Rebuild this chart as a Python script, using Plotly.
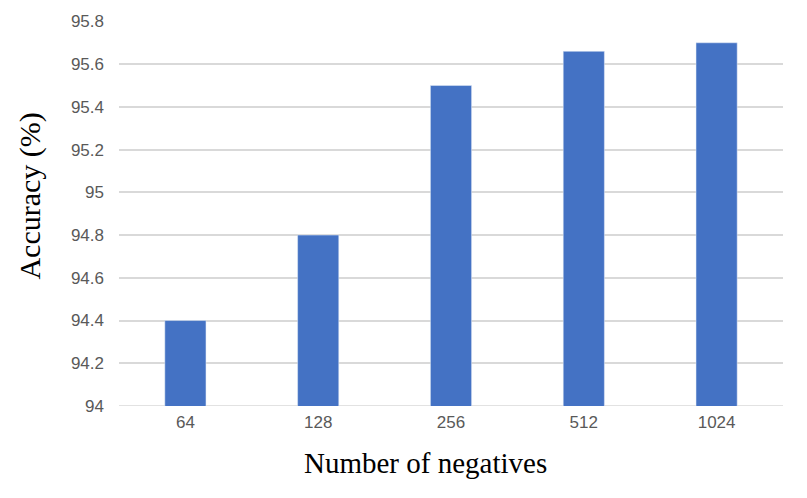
import plotly.graph_objects as go

# 데이터
negatives = ['64', '128', '256', '512', '1024']
accuracy = [94.4, 94.8, 95.5, 95.66, 95.7]
y_ticks = [94, 94.2, 94.4, 94.6, 94.8, 95, 95.2, 95.4, 95.6, 95.8]
y_tick_text = ['94', '94.2', '94.4', '94.6', '94.8', '95', '95.2', '95.4', '95.6', '95.8']

fig = go.Figure()
fig.add_trace(go.Bar(
    x=negatives,
    y=accuracy,
    marker_color='#4472c4',
    width=0.31,
))

# 페이지 body 여백(8px)만큼 보정한 여백
fig.update_layout(
    width=807, height=498,
    margin=dict(l=111, r=32, t=13, b=100),
    plot_bgcolor='white',
    paper_bgcolor='white',
    showlegend=False,
    font=dict(family='Liberation Sans, Arial', color='#595959', size=17),
)
fig.update_xaxes(
    type='category',
    automargin=False,
    showline=False, showgrid=False, ticks='',
    ticklabelstandoff=4,
)
fig.update_yaxes(
    range=[94, 95.802],
    automargin=False,
    tickvals=y_ticks, ticktext=y_tick_text,
    showgrid=True, gridcolor='#d9d9d9', gridwidth=1.5,
    zeroline=False, showline=False, ticks='',
    ticklabelstandoff=14,
)
# 94 기준선
fig.add_hline(y=94, line_color='#d9d9d9', line_width=1.5, layer='below')

# 축 제목 (엑셀처럼 중앙에서 약간 벗어난 위치)
fig.add_annotation(
    text='Number of negatives', xref='paper', yref='paper',
    x=0.461, y=0, xanchor='center', yanchor='middle', yshift=-57,
    showarrow=False, font=dict(family='Liberation Serif', size=29, color='black'),
)
fig.add_annotation(
    text='Accuracy (%)', xref='paper', yref='paper',
    x=0, y=0.544, xanchor='center', yanchor='middle', xshift=-89,
    textangle=-90,
    showarrow=False, font=dict(family='Liberation Serif', size=30, color='black'),
)

fig.write_html('out.html')
